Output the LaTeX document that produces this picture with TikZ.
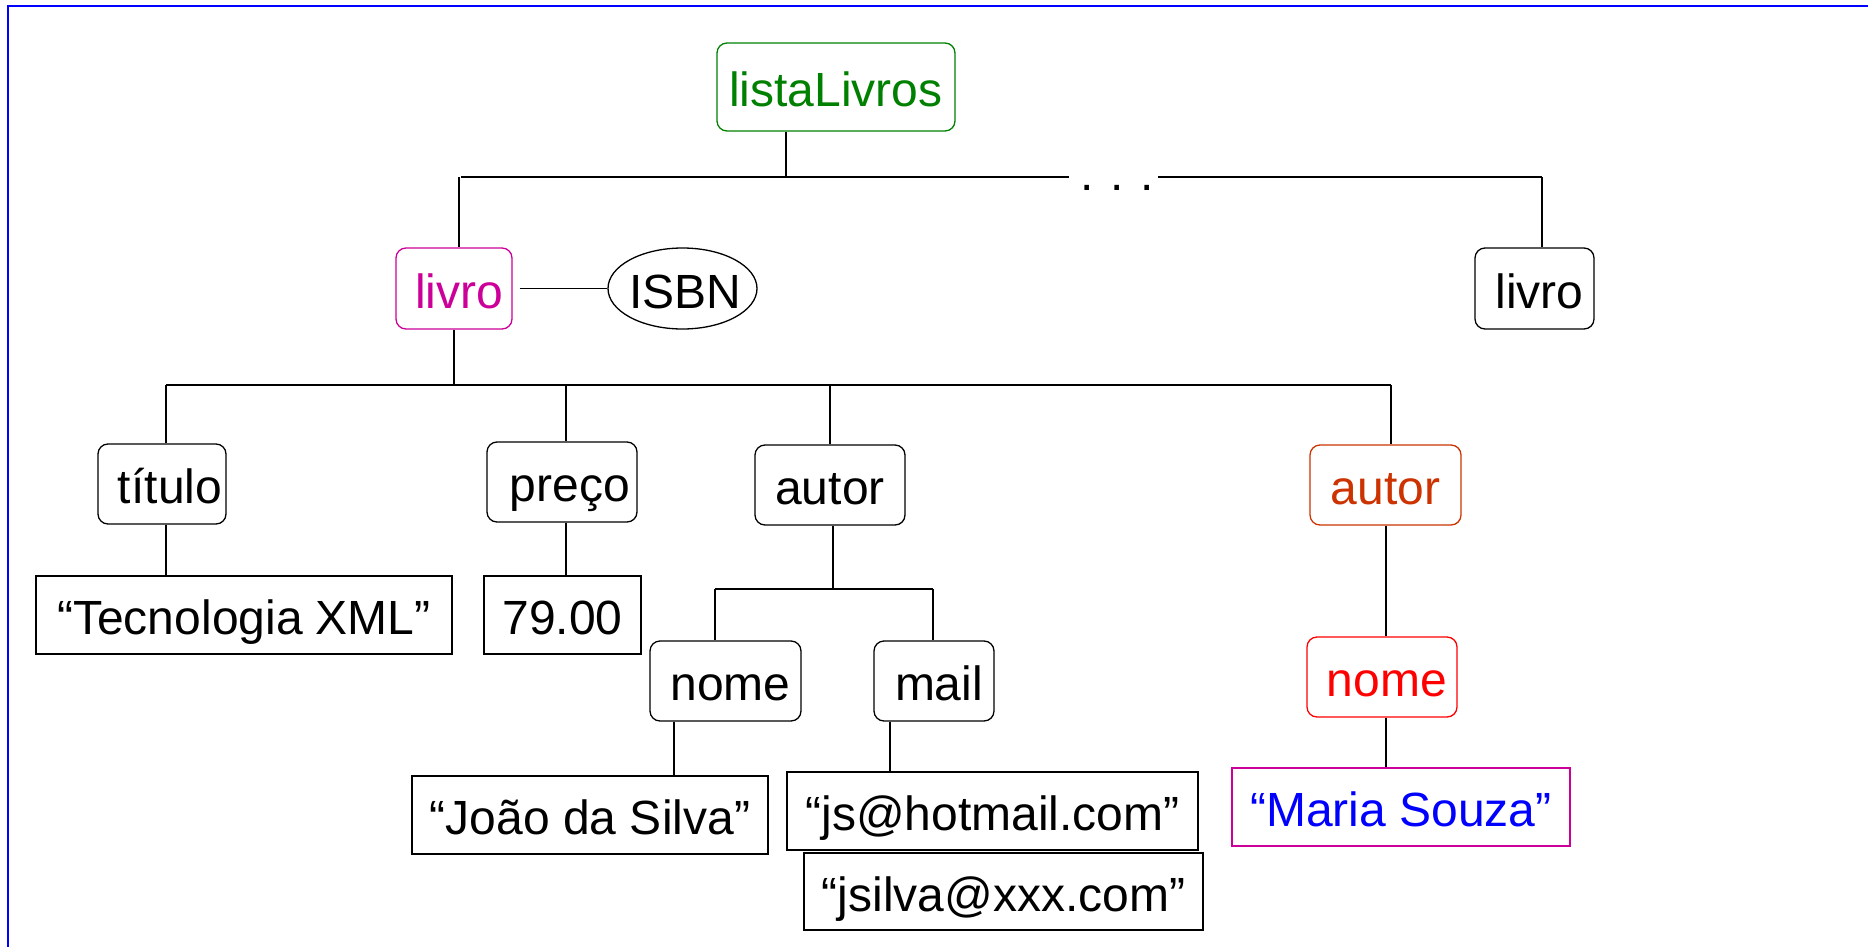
\documentclass[tikz,border=0pt]{standalone}
\usepackage{fontspec}
\setmainfont{Liberation Sans}
\usetikzlibrary{shapes.geometric,calc}
\definecolor{elemgreen}{RGB}{0,128,0}
\definecolor{elemmagenta}{RGB}{204,0,153}
\definecolor{elemorange}{RGB}{204,51,0}
\definecolor{elemred}{RGB}{255,0,0}
\definecolor{elemblue}{RGB}{0,0,255}
\tikzset{
  lbl/.style={font=\fontsize{24}{29}\selectfont, inner sep=0pt, line width=0.65pt,
              text height=21.8pt, text depth=2.2pt},
  elem/.style={lbl, draw, rounded corners=5pt},
  valbox/.style={lbl, draw},
  attr/.style={lbl, draw, ellipse},
  link/.style={line width=0.8pt, black},
}
\begin{document}
\begin{tikzpicture}[x=0.5pt, y=-0.5pt]
\useasboundingbox (0,0) rectangle (1868,947);
\fill[white] (0,0) rectangle (1868,947);
% frame
\draw[elemblue, line width=1.3pt] (8,947) -- (8,6) -- (1868,6);

% elements
\node[elem, draw=elemgreen, text=elemgreen, minimum width=119pt, minimum height=44pt] (lista) at (836,87) {listaLivros};
\node[elem, draw=elemmagenta, text=elemmagenta, minimum width=58pt, minimum height=40.5pt] (livroA) at (454,288.5) {\hspace*{5pt}livro};
\node[attr, minimum width=74.5pt, minimum height=40.5pt] (isbn) at (682.5,288.5) {\makebox[0pt]{\hspace*{3pt}ISBN}};
\node[elem, minimum width=59.5pt, minimum height=40.5pt] (livroB) at (1534.5,288.5) {\hspace*{5pt}livro};

\node[elem, minimum width=64pt, minimum height=40pt] (titulo) at (162,484) {\hspace*{8pt}título};
\node[elem, minimum width=75pt, minimum height=40pt] (preco) at (562,482) {\hspace*{8pt}preço};
\node[elem, minimum width=75pt, minimum height=40pt] (autorA) at (830,485) {autor};
\node[elem, draw=elemorange, text=elemorange, minimum width=75.5pt, minimum height=40pt] (autorB) at (1385.5,485) {autor};

\node[valbox, minimum width=208pt, minimum height=39pt] (tec) at (244,615) {“Tecnologia XML”};
\node[valbox, minimum width=78.5pt, minimum height=39pt] (precoval) at (562.5,615) {79.00};

\node[elem, minimum width=75.5pt, minimum height=40pt] (nomeA) at (725.5,681) {\hspace*{5pt}nome};
\node[elem, minimum width=60pt, minimum height=40pt] (mail) at (934,681) {\hspace*{5pt}mail};
\node[elem, draw=elemred, text=elemred, minimum width=75pt, minimum height=40pt] (nomeB) at (1382,677) {\hspace*{5pt}nome};

\node[valbox, minimum width=178pt, minimum height=39pt] (joao) at (590,815) {“João da Silva”};
\node[valbox, minimum width=205.5pt, minimum height=39pt] (js) at (992.5,811) {“js@hotmail.com”};
\node[valbox, minimum width=199.5pt, minimum height=38.5pt] (jsilva) at (1003.5,891.5) {“jsilva@xxx.com”};
\node[valbox, draw=elemmagenta, text=elemblue, minimum width=169pt, minimum height=39pt] (maria) at (1401,807) {“Maria Souza”};

% continuation marks between the two books
\node[lbl, anchor=base] (dots) at (1117,191) {.\kern 8.5pt.\kern 8.5pt.};

% junction points of the tree
\coordinate (barA) at (461,177);
\coordinate (barB) at (1069,177);
\coordinate (barC) at (1158,177);
\coordinate (barD) at (1542,177);
\coordinate (barE) at (166,385);
\coordinate (barF) at (1391,385);
\coordinate (barG) at (715,589);
\coordinate (barH) at (933,589);

% connectors
\draw[link] (786,0 |- lista.south) -- (786,0 |- barA);
\draw[link] (barA) -- (barB);
\draw[link] (barC) -- (barD);
\draw[link] (459,0 |- barA) -- (459,0 |- livroA.north);
\draw[link] (barD) -- (barD |- livroB.north);
\draw[link] ($(livroA.east)+(7,0)$) -- (isbn.west);

\draw[link] (454,0 |- livroA.south) -- (454,0 |- barE);
\draw[link] (barE) -- (barF);
\draw[link] (barE) -- (barE |- titulo.north);
\draw[link] (566,0 |- barE) -- (566,0 |- preco.north);
\draw[link] (830,0 |- barE) -- (830,0 |- autorA.north);
\draw[link] (barF) -- (barF |- autorB.north);

\draw[link] (166,0 |- titulo.south) -- (166,0 |- tec.north);
\draw[link] (566,0 |- preco.south) -- (566,0 |- precoval.north);

\draw[link] (833,0 |- autorA.south) -- (833,0 |- barG);
\draw[link] (barG) -- (barH);
\draw[link] (barG) -- (barG |- nomeA.north);
\draw[link] (barH) -- (barH |- mail.north);
\draw[link] (674,0 |- nomeA.south) -- (674,0 |- joao.north);
\draw[link] (890,0 |- mail.south) -- (890,0 |- js.north);

\draw[link] (1386,0 |- autorB.south) -- (1386,0 |- nomeB.north);
\draw[link] (1386,0 |- nomeB.south) -- (1386,0 |- maria.north);
\end{tikzpicture}
\end{document}
